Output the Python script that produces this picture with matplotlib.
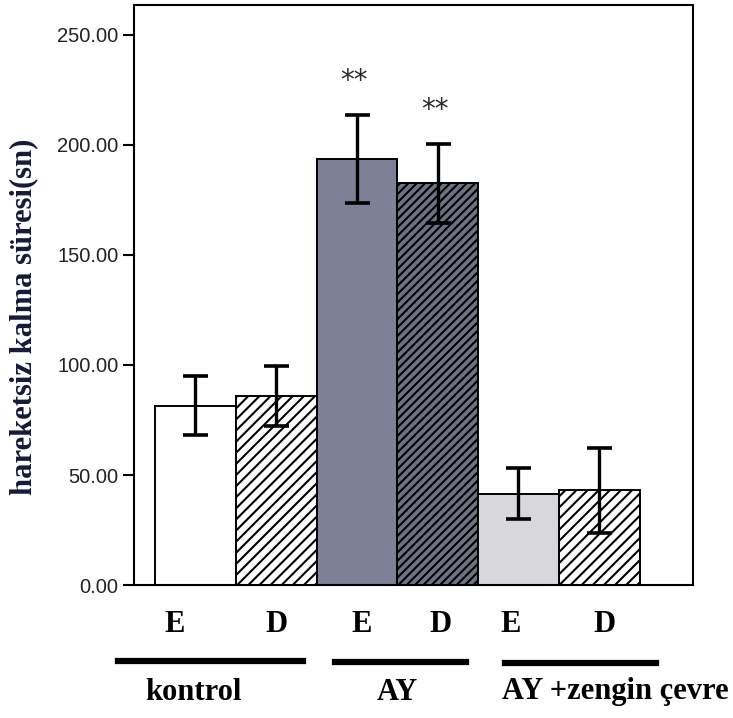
import numpy as np
import matplotlib
matplotlib.use("Agg")
import matplotlib.pyplot as plt
from matplotlib.lines import Line2D

# --- data ---
groups = ['kontrol', 'AY', 'AY +zengin çevre']
sub_labels = ['E', 'D', 'E', 'D', 'E', 'D']
means = [81.5, 86.0, 193.5, 182.5, 41.5, 43.0]
errs = [13.5, 13.5, 20.0, 18.0, 11.5, 19.5]
stars = ['', '', '**', '**', '', '']

face = ['white', 'white', '#7d8096', '#6f7282', '#d8d8dc', 'white']
hatches = ['', '///', '', '////', '', '///']

plt.rcParams['hatch.linewidth'] = 1.5

fig = plt.figure(figsize=(7.33, 7.18), dpi=100)
ax = fig.add_axes([0.1828, 0.1852, 0.7626, 0.8078])

x = np.arange(len(means))
bars = ax.bar(x, means, width=1.0, color=face, edgecolor='black',
              linewidth=1.4, zorder=2)
for b, h in zip(bars, hatches):
    b.set_hatch(h)

ax.errorbar(x, means, yerr=errs, fmt='none', ecolor='black',
            elinewidth=2.4, capsize=9, capthick=2.6, zorder=3)

# significance marks
for xi, m, e, s in zip(x, means, errs, stars):
    if s:
        ax.text(xi - 0.04, m + e + 15.5, s, ha='center', va='center',
                fontsize=20, color='#2a2a2a')

ax.set_xlim(-0.76, 6.16)
ax.set_ylim(0, 263.6)
ax.set_yticks([0, 50, 100, 150, 200, 250])
ax.set_yticklabels([f'{v:.2f}' for v in [0, 50, 100, 150, 200, 250]],
                   fontsize=14.5, family='Liberation Sans', color='#222222')
ax.tick_params(axis='y', length=8, width=1.5, pad=3)
ax.set_xticks([])
for sp in ax.spines.values():
    sp.set_linewidth(1.5)

ax.set_ylabel('hareketsiz kalma süresi(sn)', fontsize=22,
              family='Liberation Serif', fontweight='bold',
              color='#15193a')
ax.yaxis.set_label_coords(-0.172, 0.462)

# E / D sub labels below the axis
sub_x = [175, 277, 362, 441, 511, 605]
for px, lab in zip(sub_x, sub_labels):
    fig.text(px / 733, 1 - 625 / 718, lab, ha='center', va='center',
             fontsize=22, family='Liberation Serif', fontweight='bold')

# group underlines and names
spans = [(118, 303, 661), (335, 466, 662), (505, 656, 663)]
name_x = [193, 397, 615]
for (x0, x1, py), nx, g in zip(spans, name_x, groups):
    fig.add_artist(Line2D([x0 / 733, x1 / 733], [1 - py / 718, 1 - py / 718],
                          color='black', linewidth=4.5,
                          transform=fig.transFigure))
    fig.text(nx / 733, 1 - 692 / 718, g, ha='center', va='center',
             fontsize=22, family='Liberation Serif', fontweight='bold')

fig.savefig('out.png', dpi=100)
